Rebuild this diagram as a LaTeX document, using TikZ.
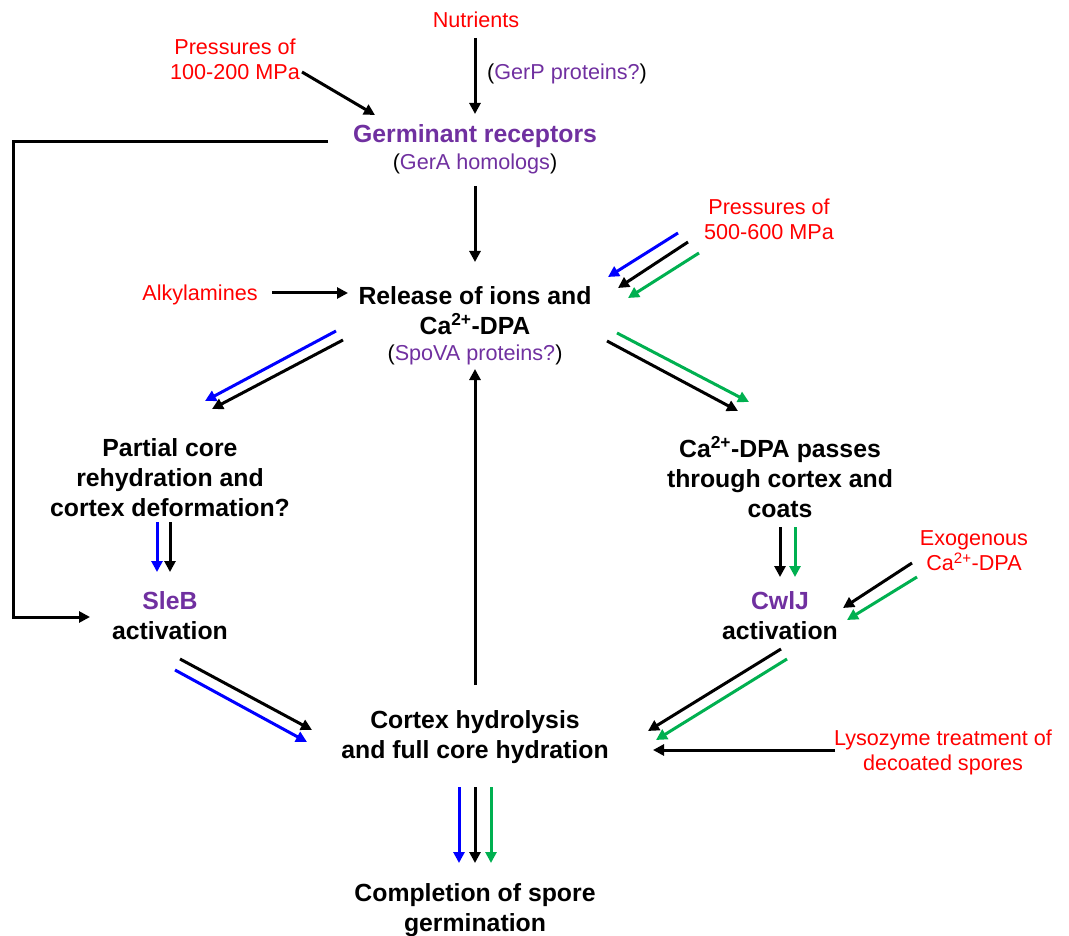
\documentclass[tikz,border=0pt]{standalone}
\usepackage{fontspec}
\setmainfont{Liberation Sans}
\usetikzlibrary{arrows.meta}

\definecolor{cuered}{RGB}{255,0,0}
\definecolor{protpurple}{RGB}{112,48,160}
\definecolor{pathblue}{RGB}{0,0,255}
\definecolor{pathgreen}{RGB}{0,176,80}

\tikzset{
  step label/.style={font=\fontsize{24.8}{30}\selectfont\bfseries, align=center, inner sep=0pt},
  cue/.style={font=\fontsize{21.6}{25}\selectfont, text=cuered, align=center, inner sep=0pt},
  note/.style={font=\fontsize{21.6}{25}\selectfont, inner sep=0pt},
  arr/.style={line width=3pt, -{Triangle[length=11pt,width=11pt]}},
}

\begin{document}
\begin{tikzpicture}[
    x = 1pt,
    y = -1pt,
    ]
    \useasboundingbox (0,0) rectangle (1069,936);
    % triggers
    \node[cue] (nutr) at (476,20) {Nutrients};
    \node[note, anchor=west] (gerp) at (487,74) {(\textcolor{protpurple}{GerP proteins?})};
    \node[cue] (press1) at (235,59) {Pressures of\\100-200 MPa};
    \node[cue] (press2) at (769,219) {Pressures of\\500-600 MPa};
    \node[cue] (alky) at (200,295) {Alkylamines};
    \node[cue] (exo) at (974,551) {Exogenous\\Ca\textsuperscript{2+}-DPA};
    \node[cue] (lyso) at (943,752) {Lysozyme treatment of\\decoated spores};
    % steps
    \node[step label, text=protpurple] (germ) at (475,136) {Germinant receptors};
    \node[note] (germnote) at (475,164) {(\textcolor{protpurple}{GerA homologs})};
    \node[step label] (rel) at (475,311) {Release of ions and\\Ca\textsuperscript{2+}-DPA};
    \node[note] (relnote) at (475,355) {(\textcolor{protpurple}{SpoVA proteins?})};
    \node[step label] (partial) at (170,478) {Partial core\\rehydration and\\cortex deformation?};
    \node[step label] (passes) at (780,477) {Ca\textsuperscript{2+}-DPA passes\\through cortex and\\coats};
    \node[step label] (sleb) at (170,616) {\textcolor{protpurple}{SleB}\\activation};
    \node[step label] (cwlj) at (780,616) {\textcolor{protpurple}{CwlJ}\\activation};
    \node[step label] (cortex) at (475,737) {Cortex hydrolysis\\and full core hydration};
    \node[step label] (compl) at (475,910) {Completion of spore\\germination};

    % single arrows
    \draw[arr] ([shift={(-1,18)}]nutr.center) -- ([shift={(0,-22)}]germ.center);
    \draw[arr] ([shift={(67,13)}]press1.center) -- ([shift={(-100,-21)}]germ.center);
    \draw[arr] ([shift={(0,22)}]germnote.center) -- ([shift={(0,-49)}]rel.center);
    \draw[arr] ([shift={(72,-2)}]alky.center) -- ([shift={(-127,-18)}]rel.center);
    \draw[arr] ([shift={(-108,-2)}]lyso.center) -- ([shift={(178,13)}]cortex.center);
    \draw[arr] ([shift={(0,-52)}]cortex.center) -- ([shift={(0,14)}]relnote.center);
    % bypass from receptors to SleB
    \draw[arr] ([shift={(-147,6)}]germ.center) -- ++(-315,0)
      |- ([shift={(-80,1)}]sleb.center);

    % high pressure
    \draw[arr, pathblue] ([shift={(-91,14)}]press2.center) -- ([shift={(133,-34)}]rel.center);
    \draw[arr] ([shift={(-81,23)}]press2.center) -- ([shift={(143,-23)}]rel.center);
    \draw[arr, pathgreen] ([shift={(-70,34)}]press2.center) -- ([shift={(153,-13)}]rel.center);
    % left branch
    \draw[arr, pathblue] ([shift={(-139,20)}]rel.center) -- ([shift={(35,-77)}]partial.center);
    \draw[arr] ([shift={(-132,29)}]rel.center) -- ([shift={(42,-69)}]partial.center);
    \foreach \c/\dx in {pathblue/-13, black/0}
    \draw[arr, \c] ([shift={(\dx,44)}]partial.center) -- ([shift={(\dx,-44)}]sleb.center);
    \draw[arr] ([shift={(10,43)}]sleb.center) -- ([shift={(-163,-7)}]cortex.center);
    \draw[arr, pathblue] ([shift={(5,54)}]sleb.center) -- ([shift={(-168,5)}]cortex.center);
    % right branch
    \draw[arr, pathgreen] ([shift={(142,22)}]rel.center) -- ([shift={(-31,-75)}]passes.center);
    \draw[arr] ([shift={(132,30)}]rel.center) -- ([shift={(-42,-66)}]passes.center);
    \foreach \c/\dx in {black/0, pathgreen/15}
    \draw[arr, \c] ([shift={(\dx,50)}]passes.center) -- ([shift={(\dx,-39)}]cwlj.center);
    \draw[arr] ([shift={(-62,12)}]exo.center) -- ([shift={(63,-8)}]cwlj.center);
    \draw[arr, pathgreen] ([shift={(-57,26)}]exo.center) -- ([shift={(67,4)}]cwlj.center);
    \draw[arr] ([shift={(1,33)}]cwlj.center) -- ([shift={(173,-6)}]cortex.center);
    \draw[arr, pathgreen] ([shift={(7,43)}]cwlj.center) -- ([shift={(181,3)}]cortex.center);
    % completion
    \foreach \c/\dx in {pathblue/-16, black/0, pathgreen/16}
    \draw[arr, \c] ([shift={(\dx,50)}]cortex.center) -- ([shift={(\dx,-47)}]compl.center);
  \end{tikzpicture}
\end{document}
